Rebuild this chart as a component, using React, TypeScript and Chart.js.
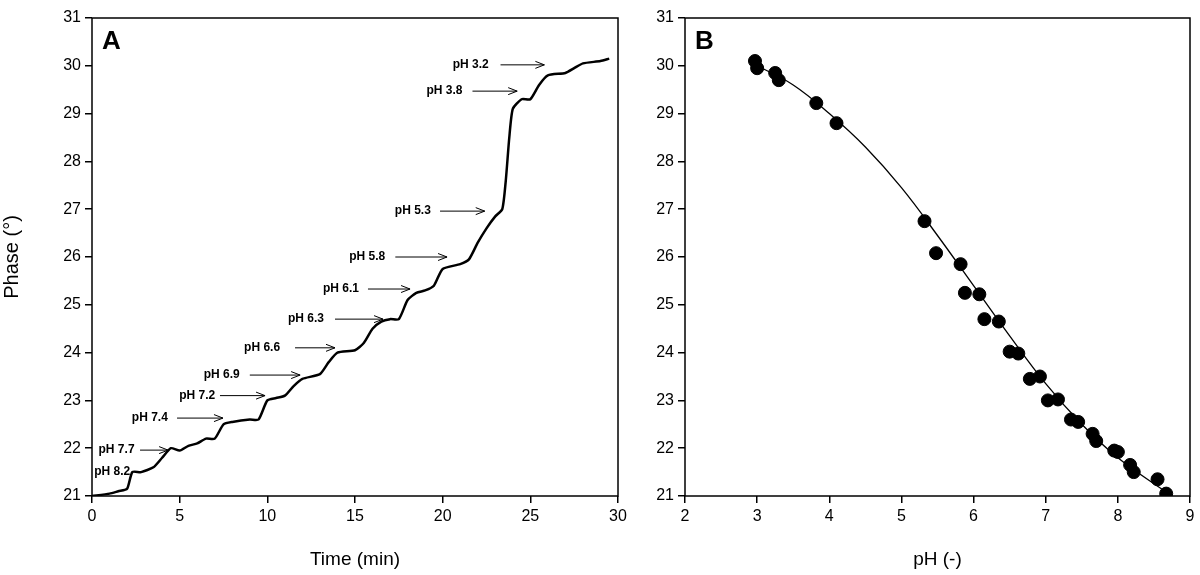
import React, { useEffect, useRef } from "react";
import { Chart, registerables } from "chart.js";
Chart.register(...registerables);

const timeMin = [0,1,1.5,2,2.3,2.8,3.5,4,4.5,5,5.5,6,6.5,7,7.5,8,9,9.5,10,10.5,11,11.5,12,13,13.5,14,15,15.5,16,16.5,17,17.5,18,18.5,19,19.5,20,21,21.5,22,22.5,23,23.4,23.6,23.8,24,24.5,25,25.5,26,27,27.5,28,29,29.5];
const phaseA = [21.0,21.05,21.1,21.15,21.5,21.5,21.6,21.8,22.0,21.95,22.05,22.1,22.2,22.2,22.5,22.55,22.6,22.6,23.0,23.05,23.1,23.3,23.45,23.55,23.8,24.0,24.05,24.2,24.5,24.65,24.7,24.7,25.1,25.25,25.3,25.4,25.75,25.85,25.95,26.3,26.6,26.85,27.0,27.6,28.5,29.1,29.3,29.3,29.6,29.8,29.85,29.95,30.05,30.1,30.15];

const annLabels = ["pH 3.2","pH 3.8","pH 5.3","pH 5.8","pH 6.1","pH 6.3","pH 6.6","pH 6.9","pH 7.2","pH 7.4","pH 7.7","pH 8.2"];
const annTextT = [21.6,20.1,18.3,15.7,14.2,12.2,9.7,7.4,6.0,3.3,1.4,1.15];
const annY = [30.02,29.47,26.96,26.0,25.33,24.7,24.1,23.53,23.1,22.63,21.96,21.5];
const annArrowFrom = [23.3,21.7,19.85,17.3,15.74,13.86,11.58,9.0,7.3,4.85,2.74,NaN];
const annArrowTo = [25.8,24.25,22.4,20.25,18.14,16.6,13.86,11.87,9.87,7.47,4.34,NaN];

const pHPoints = [2.97,3.0,3.25,3.3,3.82,4.1,5.32,5.48,5.82,5.88,6.08,6.15,6.35,6.5,6.62,6.78,6.92,7.03,7.17,7.35,7.45,7.65,7.7,7.95,8.0,8.17,8.22,8.55,8.67];
const phaseB = [30.1,29.95,29.85,29.7,29.22,28.8,26.75,26.08,25.85,25.25,25.22,24.7,24.65,24.02,23.98,23.45,23.5,23.0,23.02,22.6,22.55,22.3,22.15,21.95,21.92,21.65,21.5,21.35,21.05];
const fitPH = [3,3.5,4,4.5,5,5.5,6,6.5,7,7.5,8,8.7];
const fitPhase = [30.0,29.6,29.0,28.3,27.45,26.45,25.4,24.35,23.35,22.5,21.8,21.05];

const FONT = "Arial, 'Liberation Sans', sans-serif";

const boxPlugin = (letter: string) => ({
  id: "box" + letter,
  afterDraw(chart: any) {
    const { ctx, chartArea: a } = chart;
    ctx.save();
    ctx.strokeStyle = "#000";
    ctx.lineWidth = 1.5;
    ctx.strokeRect(a.left, a.top, a.right - a.left, a.bottom - a.top);
    ctx.fillStyle = "#000";
    ctx.font = `bold 26px ${FONT}`;
    ctx.textBaseline = "middle";
    ctx.fillText(letter, a.left + 10, a.top + 24);
    ctx.restore();
  },
});

const annPlugin = {
  id: "ann",
  afterDraw(chart: any) {
    const { ctx } = chart;
    const xs = chart.scales.x, ys = chart.scales.y;
    ctx.save();
    ctx.font = `bold 12px ${FONT}`;
    ctx.fillStyle = "#000";
    ctx.strokeStyle = "#000";
    ctx.lineWidth = 1;
    ctx.textAlign = "center";
    ctx.textBaseline = "middle";
    annLabels.forEach((l, i) => {
      const y = ys.getPixelForValue(annY[i]);
      ctx.fillText(l, xs.getPixelForValue(annTextT[i]), y);
      if (!isNaN(annArrowFrom[i])) {
        const x1 = xs.getPixelForValue(annArrowFrom[i]);
        const x2 = xs.getPixelForValue(annArrowTo[i]);
        ctx.beginPath();
        ctx.moveTo(x1, y); ctx.lineTo(x2, y);
        ctx.moveTo(x2 - 9, y - 3.5); ctx.lineTo(x2, y); ctx.lineTo(x2 - 9, y + 3.5);
        ctx.stroke();
      }
    });
    ctx.restore();
  },
};

function axes(xmin: number, xmax: number, xstep: number, xtitle: string, ywidth: number, ytitle: string | null) {
  const tickFont = { family: FONT, size: 16 };
  return {
    x: {
      type: "linear", min: xmin, max: xmax,
      ticks: { stepSize: xstep, color: "#000", font: tickFont, padding: 4 },
      grid: { drawOnChartArea: false, tickLength: 7, color: "#000", lineWidth: 1.5 },
      border: { display: false },
      title: { display: true, text: xtitle, color: "#000", font: { family: FONT, size: 19 }, padding: { top: 0 } },
      afterFit: (s: any) => { s.height = 79; },
    },
    y: {
      type: "linear", min: 21, max: 31,
      ticks: { stepSize: 1, color: "#000", font: tickFont, padding: 4 },
      grid: { drawOnChartArea: false, tickLength: 7, color: "#000", lineWidth: 1.5 },
      border: { display: false },
      title: { display: !!ytitle, text: ytitle || "", color: "#000", font: { family: FONT, size: 20 }, padding: 0 },
      afterFit: (s: any) => { s.width = ywidth; },
    },
  };
}

export default function App() {
  const refA = useRef<HTMLCanvasElement>(null);
  const refB = useRef<HTMLCanvasElement>(null);
  useEffect(() => {
    document.body.style.margin = "0";
    const a = new Chart(refA.current!, {
      type: "line",
      data: { datasets: [{ data: timeMin.map((t, i) => ({ x: t, y: phaseA[i] })), borderColor: "#000", borderWidth: 2.5, pointRadius: 0, tension: 0.2 }] },
      options: {
        animation: false, responsive: false, devicePixelRatio: 1,
        layout: { padding: { top: 18, right: 22, left: 0, bottom: 0 } },
        plugins: { legend: { display: false }, tooltip: { enabled: false } },
        scales: axes(0, 30, 5, "Time (min)", 92, "Phase (°)") as any,
      },
      plugins: [boxPlugin("A"), annPlugin],
    });
    const b = new Chart(refB.current!, {
      type: "scatter",
      data: { datasets: [
        { data: pHPoints.map((p, i) => ({ x: p, y: phaseB[i] })), backgroundColor: "#000", borderColor: "#000", pointRadius: 6.5 },
        { type: "line", data: fitPH.map((p, i) => ({ x: p, y: fitPhase[i] })), borderColor: "#000", borderWidth: 1.3, pointRadius: 0, tension: 0.4, showLine: true } as any,
      ] },
      options: {
        animation: false, responsive: false, devicePixelRatio: 1,
        layout: { padding: { top: 18, right: 10, left: 0, bottom: 0 } },
        plugins: { legend: { display: false }, tooltip: { enabled: false } },
        scales: axes(2, 9, 1, "pH (-)", 45, null) as any,
      },
      plugins: [boxPlugin("B")],
    });
    return () => { a.destroy(); b.destroy(); };
  }, []);
  return (
    <div style={{ position: "relative", width: 1200, height: 575, background: "#fff" }}>
      <canvas ref={refA} width={640} height={575} style={{ position: "absolute", left: 0, top: 0 }} />
      <canvas ref={refB} width={560} height={575} style={{ position: "absolute", left: 640, top: 0 }} />
    </div>
  );
}
